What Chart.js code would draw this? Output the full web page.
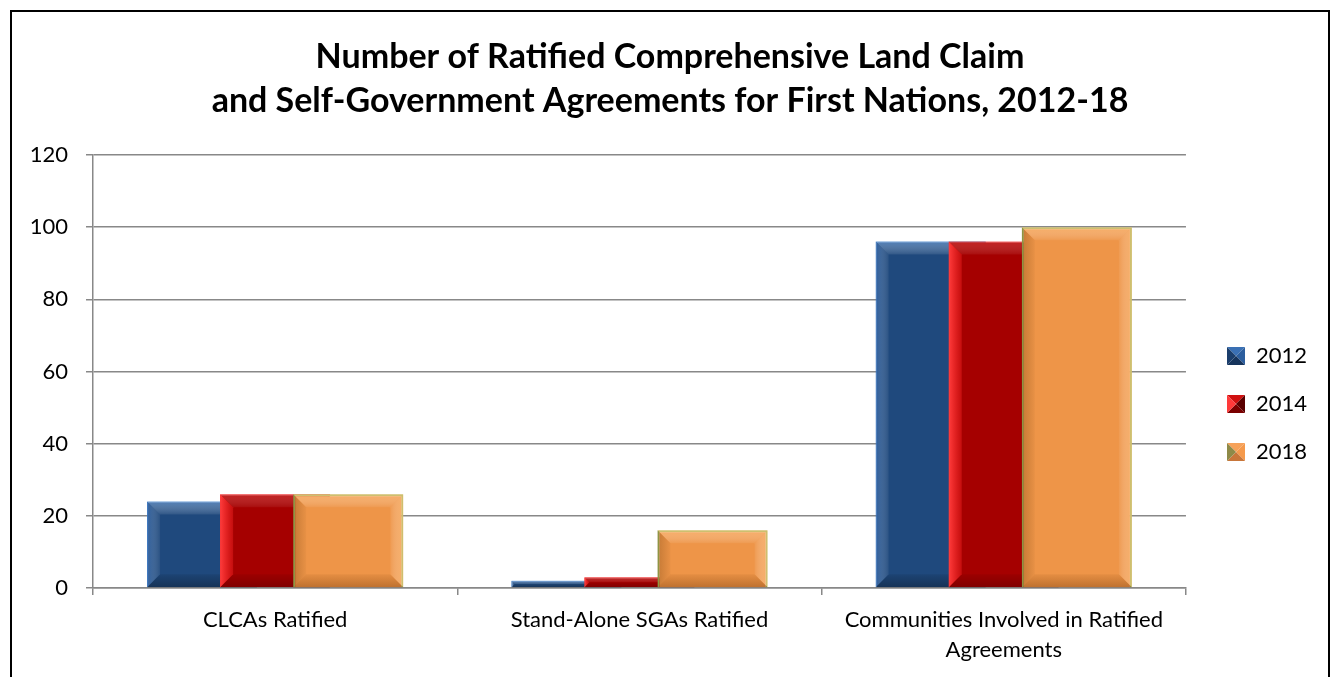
<!DOCTYPE html>
<html>
<head>
<meta charset="utf-8">
<script src="https://cdn.jsdelivr.net/npm/chart.js@4.4.1/dist/chart.umd.min.js"></script>
<style>
  html, body { margin: 0; padding: 0; background: #fff; overflow: hidden; }
  #frame { position: absolute; left: 10px; top: 10px; width: 1316px; height: 700px; border: 2px solid #000; }
  #chart { display: block; }
</style>
</head>
<body>
<div id="frame"><canvas id="chart" width="1316" height="680"></canvas></div>
<script>
// data
const categories = ['CLCAs Ratified', 'Stand-Alone SGAs Ratified', ['Communities Involved in Ratified', 'Agreements']];
const years = ['2012', '2014', '2018'];
const values2012 = [24, 2, 96];
const values2014 = [26, 3, 96];
const values2018 = [26, 16, 100];
const yMin = 0;
const yMax = 120;
const yStep = 20;

const fillColors = ['#1F497D', '#A50000', '#EE9548'];
const edgeColors = ['#2B68AE', '#E01818', '#9BBB59'];
// bevel shades per series: top, right, bottom, left (edge colour, inner colour)
const bevels = [
    [['rgba(120,170,230,0.55)', 'rgba(255,255,255,0.08)'], ['rgba(0,0,0,0.05)', 'rgba(0,0,0,0.12)'], ['rgba(0,0,0,0.30)', 'rgba(0,0,0,0.08)'], ['rgba(60,120,200,0.45)', 'rgba(255,255,255,0.05)']],
    [['rgba(255,90,90,0.35)', 'rgba(255,255,255,0.05)'], ['rgba(0,0,0,0.05)', 'rgba(0,0,0,0.12)'], ['rgba(0,0,0,0.22)', 'rgba(0,0,0,0.06)'], ['rgba(255,60,60,1)', 'rgba(255,40,40,0.35)']],
    [['rgba(255,190,120,0.55)', 'rgba(255,255,255,0.05)'], ['rgba(255,190,120,0.55)', 'rgba(255,255,255,0.05)'], ['rgba(120,60,10,0.40)', 'rgba(120,60,10,0.08)'], ['rgba(120,70,20,0.35)', 'rgba(120,70,20,0.05)']]
];
const legendShades = [
    ['#3A70B4', '#2C5E9E', '#16345C', '#1B3E6C'],
    ['#D01010', '#5A0000', '#7A0000', '#FF3A3A'],
    ['#F6A25A', '#F59A4C', '#C8763A', '#8E8A48']
];

function makeIcon(shades) {
    const c = document.createElement('canvas');
    c.width = 18; c.height = 18;
    const g = c.getContext('2d');
    const tri = (pts, col) => {
        g.beginPath();
        g.moveTo(pts[0], pts[1]); g.lineTo(pts[2], pts[3]); g.lineTo(9, 9);
        g.closePath(); g.fillStyle = col; g.fill();
    };
    tri([0, 0, 18, 0], shades[0]);
    tri([18, 0, 18, 18], shades[1]);
    tri([18, 18, 0, 18], shades[2]);
    tri([0, 18, 0, 0], shades[3]);
    return c;
}
const legendIcons = legendShades.map(makeIcon);

function drawBevel(ctx, el, shades) {
    const p = el.getProps(['x', 'y', 'base', 'width'], true);
    const l = p.x - p.width / 2, r = p.x + p.width / 2;
    const t = Math.min(p.y, p.base), b = Math.max(p.y, p.base);
    const d = Math.min(13, (r - l) / 2, (b - t) / 2);
    const quad = (pts, shade, x0, y0, x1, y1) => {
        const grad = ctx.createLinearGradient(x0, y0, x1, y1);
        grad.addColorStop(0, shade[0]);
        grad.addColorStop(1, shade[1]);
        ctx.beginPath();
        ctx.moveTo(pts[0], pts[1]);
        for (let i = 2; i < pts.length; i += 2) ctx.lineTo(pts[i], pts[i + 1]);
        ctx.closePath(); ctx.fillStyle = grad; ctx.fill();
    };
    quad([l, t, r, t, r - d, t + d, l + d, t + d], shades[0], 0, t, 0, t + d);
    quad([r, t, r, b, r - d, b - d, r - d, t + d], shades[1], r, 0, r - d, 0);
    quad([l, b, r, b, r - d, b - d, l + d, b - d], shades[2], 0, b, 0, b - d);
    quad([l, t, l + d, t + d, l + d, b - d, l, b], shades[3], l, 0, l + d, 0);
}

// later series sit on top of the earlier ones, as in the original
const overlapPlugin = {
    id: 'overlap',
    beforeDatasetsDraw(chart) {
        const ctx = chart.ctx;
        chart.data.datasets.forEach((ds, i) => {
            const meta = chart.getDatasetMeta(i);
            if (!meta.visible) return;
            meta.controller.draw();
            ctx.save();
            meta.data.forEach(el => drawBevel(ctx, el, bevels[i]));
            ctx.restore();
        });
        return false;
    }
};

// nudge legend and title to where the original has them
const layoutShift = {
    id: 'layoutShift',
    afterLayout(chart) {
        chart.legend.left += 15;
        chart.legend.right += 15;
        chart.legend.top += 52;
        chart.legend.bottom += 52;
        if (chart.titleBlock) {
            chart.titleBlock.left += 13;
            chart.titleBlock.right += 13;
        }
    }
};

const seriesValues = [values2012, values2014, values2018];

new Chart(document.getElementById('chart'), {
    type: 'bar',
    data: {
        labels: categories,
        datasets: years.map((y, i) => ({
            label: y,
            data: seriesValues[i],
            backgroundColor: fillColors[i],
            borderColor: edgeColors[i],
            borderWidth: i === 2 ? 2 : 1,
            categoryPercentage: 0.6016,
            barPercentage: 1.507
        }))
    },
    options: {
        responsive: false,
        animation: false,
        layout: { padding: { left: 0, right: 26, top: 0, bottom: 0 } },
        plugins: {
            title: {
                display: true,
                text: ['Number of Ratified Comprehensive Land Claim', 'and Self-Government Agreements for First Nations, 2012-18'],
                color: '#000',
                font: { family: 'Lato', size: 34, weight: 'bold', lineHeight: 1.294 },
                padding: { top: 23, bottom: 32 }
            },
            legend: {
                position: 'right',
                labels: {
                    color: '#000',
                    font: { family: 'Lato', size: 22 },
                    boxWidth: 18,
                    boxHeight: 18,
                    padding: 26,
                    usePointStyle: true,
                    generateLabels(chart) {
                        const items = Chart.defaults.plugins.legend.labels.generateLabels(chart);
                        items.forEach(it => { it.pointStyle = legendIcons[it.datasetIndex]; });
                        return items;
                    }
                }
            },
            tooltip: { enabled: false }
        },
        scales: {
            x: {
                afterFit(scale) { scale.height = 104; },
                grid: { offset: true, drawOnChartArea: false, drawTicks: true, tickLength: 7, color: '#888', lineWidth: 1.5 },
                border: { color: '#888', width: 1.5 },
                ticks: { color: '#000', font: { family: 'Lato', size: 22, lineHeight: 1.36 }, padding: 10, maxRotation: 0, autoSkip: false }
            },
            y: {
                min: yMin,
                max: yMax,
                afterFit(scale) { scale.width = 81; },
                grid: { color: '#888', lineWidth: 1.5, tickLength: 7 },
                border: { color: '#888', width: 1.5 },
                ticks: { stepSize: yStep, color: '#000', font: { family: 'Lato', size: 22 }, padding: 18 }
            }
        }
    },
    plugins: [overlapPlugin, layoutShift]
});
</script>
</body>
</html>
